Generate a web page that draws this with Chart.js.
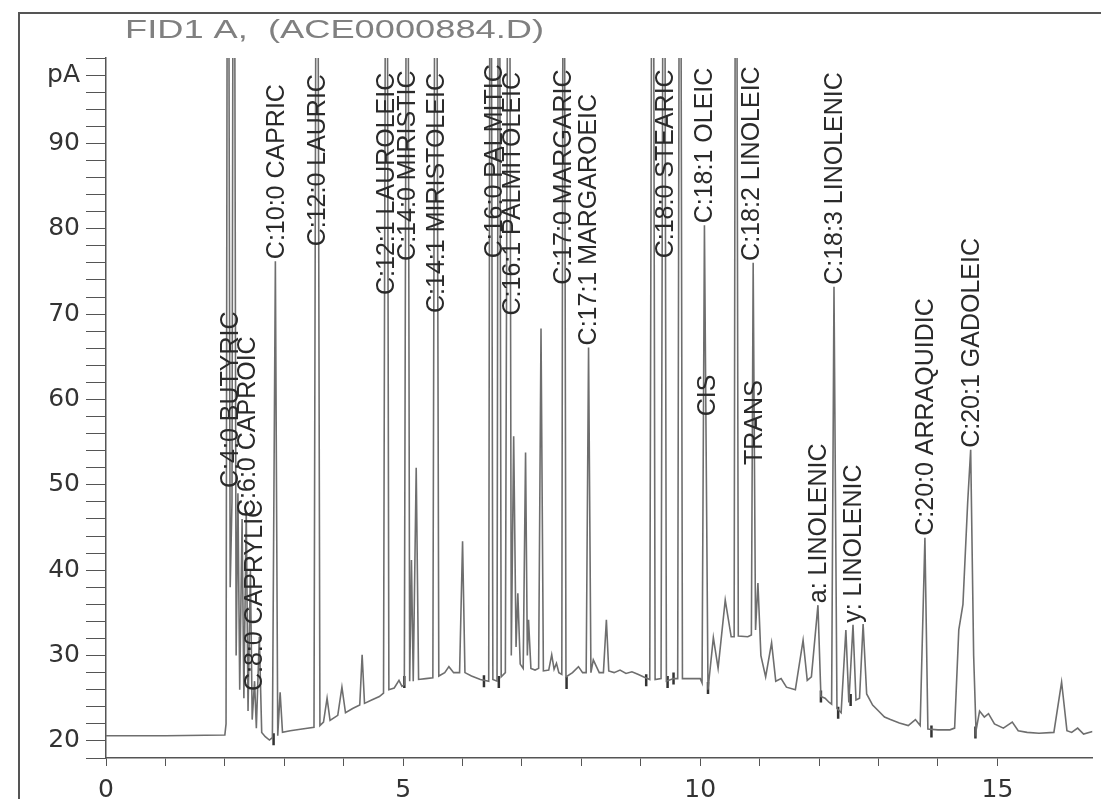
<!DOCTYPE html>
<html>
<head>
<meta charset="utf-8">
<script src="https://cdn.jsdelivr.net/npm/chart.js@4.4.0/dist/chart.umd.min.js"></script>
<style>
  html, body { margin: 0; padding: 0; background: #fff; }
</style>
</head>
<body>
<canvas id="myChart" width="1101" height="799"></canvas>
<script>
// FID trace (minutes, pA). Off-scale peaks get 160 and are clipped.
const times = [
  0, 1.0, 2.0, 2.02, 2.05, 2.09, 2.12, 2.15, 2.19, 2.22, 2.25, 2.29, 2.32, 2.36, 2.39, 2.43, 2.46, 2.5,
  2.53, 2.58, 2.62, 2.68, 2.75, 2.8, 2.85, 2.89, 2.93, 2.97, 3.1, 3.3, 3.5, 3.55, 3.6, 3.66, 3.72, 3.77,
  3.9, 3.97, 4.03, 4.15, 4.27, 4.31, 4.35, 4.47, 4.6, 4.67, 4.72, 4.76, 4.85, 4.93, 4.98, 5.02, 5.07,
  5.11, 5.14, 5.17, 5.22, 5.26, 5.38, 5.5, 5.55, 5.6, 5.7, 5.77, 5.85, 5.95, 6.0, 6.04, 6.15, 6.3, 6.44,
  6.47, 6.51, 6.58, 6.61, 6.65, 6.72, 6.78, 6.82, 6.86, 6.9, 6.93, 6.97, 7.02, 7.06, 7.09, 7.11, 7.15,
  7.22, 7.28, 7.32, 7.36, 7.45, 7.5, 7.54, 7.58, 7.62, 7.67, 7.7, 7.74, 7.85, 7.95, 8.02, 8.08, 8.12,
  8.16, 8.2, 8.3, 8.37, 8.42, 8.46, 8.55, 8.65, 8.75, 8.85, 8.95, 9.05, 9.15, 9.2, 9.24, 9.34, 9.39,
  9.43, 9.55, 9.62, 9.66, 9.7, 9.85, 10.0, 10.03, 10.07, 10.13, 10.22, 10.3, 10.42, 10.52, 10.57, 10.6,
  10.64, 10.8, 10.86, 10.89, 10.93, 10.97, 11.02, 11.1, 11.2, 11.27, 11.36, 11.45, 11.6, 11.73, 11.8,
  11.87, 11.98, 12.03, 12.1, 12.17, 12.21, 12.25, 12.3, 12.37, 12.45, 12.5, 12.57, 12.62, 12.68, 12.74,
  12.8, 12.9, 13.0, 13.1, 13.2, 13.35, 13.5, 13.62, 13.7, 13.78, 13.83, 14.0, 14.2, 14.28, 14.35, 14.42,
  14.5, 14.55, 14.6, 14.64, 14.7, 14.78, 14.85, 14.95, 15.1, 15.25, 15.35, 15.5, 15.7, 15.95, 16.08,
  16.17, 16.25, 16.35, 16.45, 16.6
];
const signal = [
  20.6, 20.6, 20.7, 22, 160, 38, 48, 160, 30, 49, 26, 46, 25, 47, 23.5, 40, 22.5, 27,
  21.5, 32.2, 21, 20.5, 20.1, 20.4, 76.2, 20.6, 25.7, 21, 21.2, 21.4, 21.6, 160, 21.8, 22.2, 25, 22.4,
  23, 26.3, 23.3, 23.8, 24.2, 30.1, 24.4, 24.8, 25.2, 25.6, 160, 26, 26.2, 27.1, 26.4, 26.6, 160,
  27, 41.2, 27, 52, 27.2, 27.3, 27.4, 160, 27.6, 28, 28.7, 28, 28, 43.4, 28, 27.6, 27.2, 27,
  160, 27.2, 27, 160, 27.5, 28, 160, 30, 55.7, 31, 37.3, 29, 28.5, 53.8, 30, 34.2, 28.5,
  28.3, 28.5, 68.3, 28.2, 28.3, 30.1, 28.4, 29.1, 28, 27.8, 160, 27.5, 28, 28.7, 28, 28, 66.1,
  28, 29.5, 28, 28, 34.2, 28.2, 28, 28.3, 27.9, 28.1, 27.8, 27.5, 27.2, 160, 27.2, 27.3, 160,
  27, 27.3, 27.3, 160, 27.3, 27.3, 27.3, 26.8, 80.4, 26.0, 32.1, 28.5, 36.5, 32.2, 32.2, 160,
  32.3, 32.2, 32.4, 76, 33, 38.5, 30, 27.5, 31.5, 27, 27.3, 26.3, 26, 31.8, 27.1,
  27.5, 35.9, 25.2, 25, 24.5, 24.3, 73.2, 23.8, 23.3, 33, 24.5, 33.6, 24.8, 25, 33.7,
  25.5, 24.2, 23.5, 22.8, 22.5, 22.1, 21.8, 22.5, 21.8, 43.8, 21.4, 21.3, 21.3, 21.5, 33, 36,
  48, 54.1, 30, 21.2, 23.5, 22.8, 23.2, 22, 21.5, 22.2, 21.2, 21.0, 20.9, 21, 26.9,
  21.2, 21.0, 21.5, 20.8, 21.1
];

// peak names, where they sit (minutes) and the height the text starts at (pA)
const peakNames = [
  'C:4:0 BUTYRIC', 'C:6:0 CAPROIC', 'C:8:0 CAPRYLIC', 'C:10:0 CAPRIC', 'C:12:0 LAURIC',
  'C:12:1 LAUROLEIC', 'C:14:0 MIRISTIC', 'C:14:1 MIRISTOLEIC', 'C:16:0 PALMITIC', 'C:16:1 PALMITOLEIC',
  'C:17:0 MARGARIC', 'C:17:1 MARGAROEIC', 'C:18:0 STEARIC', 'C:18:1 OLEIC', 'CIS',
  'C:18:2 LINOLEIC', 'TRANS', 'a: LINOLENIC', 'C:18:3 LINOLENIC', 'y: LINOLENIC',
  'C:20:0 ARRAQUIDIC', 'C:20:1 GADOLEIC'
];
const peakTimes = [
  2.08, 2.37, 2.5, 2.87, 3.55,
  4.72, 5.07, 5.55, 6.53, 6.83,
  7.7, 8.12, 9.41, 10.07, 10.12,
  10.86, 10.91, 11.98, 12.25, 12.57,
  13.79, 14.55
];
const labelStart = [
  49.4, 46, 25.6, 76.2, 77.7,
  72.0, 76.0, 69.9, 76.3, 69.6,
  73.2, 66.1, 76.3, 80.4, 57.8,
  76.0, 52.1, 35.9, 73.2, 33.6,
  43.8, 54.1
];

// integration baseline ticks
const markTimes = [2.82, 5.02, 6.36, 6.61, 7.75, 9.09, 9.45, 9.55, 10.13, 12.03, 12.32, 12.53, 13.89, 14.63];
const markValues = [20.2, 26.9, 27, 26.9, 26.8, 27.1, 26.9, 27.3, 26.2, 25.2, 23.3, 24.8, 21.1, 21.0];

const chartTitle = 'FID1 A,  (ACE0000884.D)';

const trace = times.map((t, i) => ({ x: t, y: signal[i] }));
const marks = markTimes.map((t, i) => ({ x: t, y: markValues[i] }));

// frame + header text
const framePlugin = {
  id: 'frame',
  afterDraw(chart) {
    const ctx = chart.ctx;
    ctx.save();
    ctx.strokeStyle = '#555';
    ctx.lineWidth = 2;
    ctx.beginPath();
    ctx.moveTo(19, 799);
    ctx.lineTo(19, 13);
    ctx.lineTo(1101, 13);
    ctx.stroke();
    ctx.font = '25px "Liberation Sans", Arial, sans-serif';
    ctx.fillStyle = '#808080';
    ctx.textBaseline = 'middle';
    ctx.translate(125, 31);
    ctx.scale(1.45, 1);
    ctx.fillText(chartTitle, 0, 0);
    ctx.restore();
  }
};

// rotated peak names, placed with the chart scales
const peakLabels = {
  id: 'peakLabels',
  afterDatasetsDraw(chart) {
    const ctx = chart.ctx;
    const xs = chart.scales.x;
    const ys = chart.scales.y;
    ctx.save();
    ctx.font = '25px "Liberation Sans", Arial, sans-serif';
    ctx.fillStyle = '#2a2a2a';
    ctx.textAlign = 'left';
    ctx.textBaseline = 'middle';
    peakNames.forEach((name, i) => {
      const px = xs.getPixelForValue(peakTimes[i]);
      const py = ys.getPixelForValue(labelStart[i]);
      ctx.save();
      ctx.translate(px, py);
      ctx.rotate(-Math.PI / 2);
      ctx.fillText(name, 2, 1);
      ctx.restore();
    });
    ctx.restore();
  }
};

const ctx = document.getElementById('myChart').getContext('2d');
const myChart = new Chart(ctx, {
  type: 'line',
  data: {
    datasets: [{
      data: trace,
      borderColor: '#6e6e6e',
      borderWidth: 1.6,
      pointRadius: 0,
      tension: 0
    }, {
      type: 'scatter',
      data: marks,
      pointStyle: 'line',
      rotation: 90,
      radius: 6,
      borderColor: '#333',
      borderWidth: 2.5
    }]
  },
  options: {
    responsive: false,
    animation: false,
    devicePixelRatio: 1,
    layout: { padding: { left: 0, right: 6, top: 58, bottom: 0 } },
    plugins: { legend: { display: false }, tooltip: { enabled: false } },
    scales: {
      x: {
        type: 'linear',
        min: 0,
        max: 16.6,
        afterFit: s => { s.height = 41; },
        afterBuildTicks: s => { s.ticks = s.ticks.filter(t => Number.isInteger(t.value)); },
        border: { display: true, color: '#555', width: 1.5 },
        grid: { drawOnChartArea: false, drawTicks: true, tickLength: 8, color: '#555' },
        ticks: {
          stepSize: 1,
          autoSkip: false,
          maxRotation: 0,
          padding: 9,
          color: '#333',
          font: { family: '"DejaVu Sans"', size: 25 },
          callback: v => (v % 5 === 0 ? String(v) : '')
        }
      },
      y: {
        min: 18,
        max: 100,
        afterFit: s => { s.width = 106; },
        border: { display: true, color: '#555', width: 1.5 },
        grid: { drawOnChartArea: false, drawTicks: true, tickLength: 20, color: '#555' },
        ticks: {
          stepSize: 2,
          autoSkip: false,
          padding: 6,
          color: '#333',
          font: { family: '"DejaVu Sans"', size: 25 },
          callback: v => {
            if (v === 98) return 'pA';
            if (v >= 20 && v <= 90 && v % 10 === 0) return String(v);
            return '';
          }
        }
      }
    }
  },
  plugins: [framePlugin, peakLabels]
});
</script>
</body>
</html>
